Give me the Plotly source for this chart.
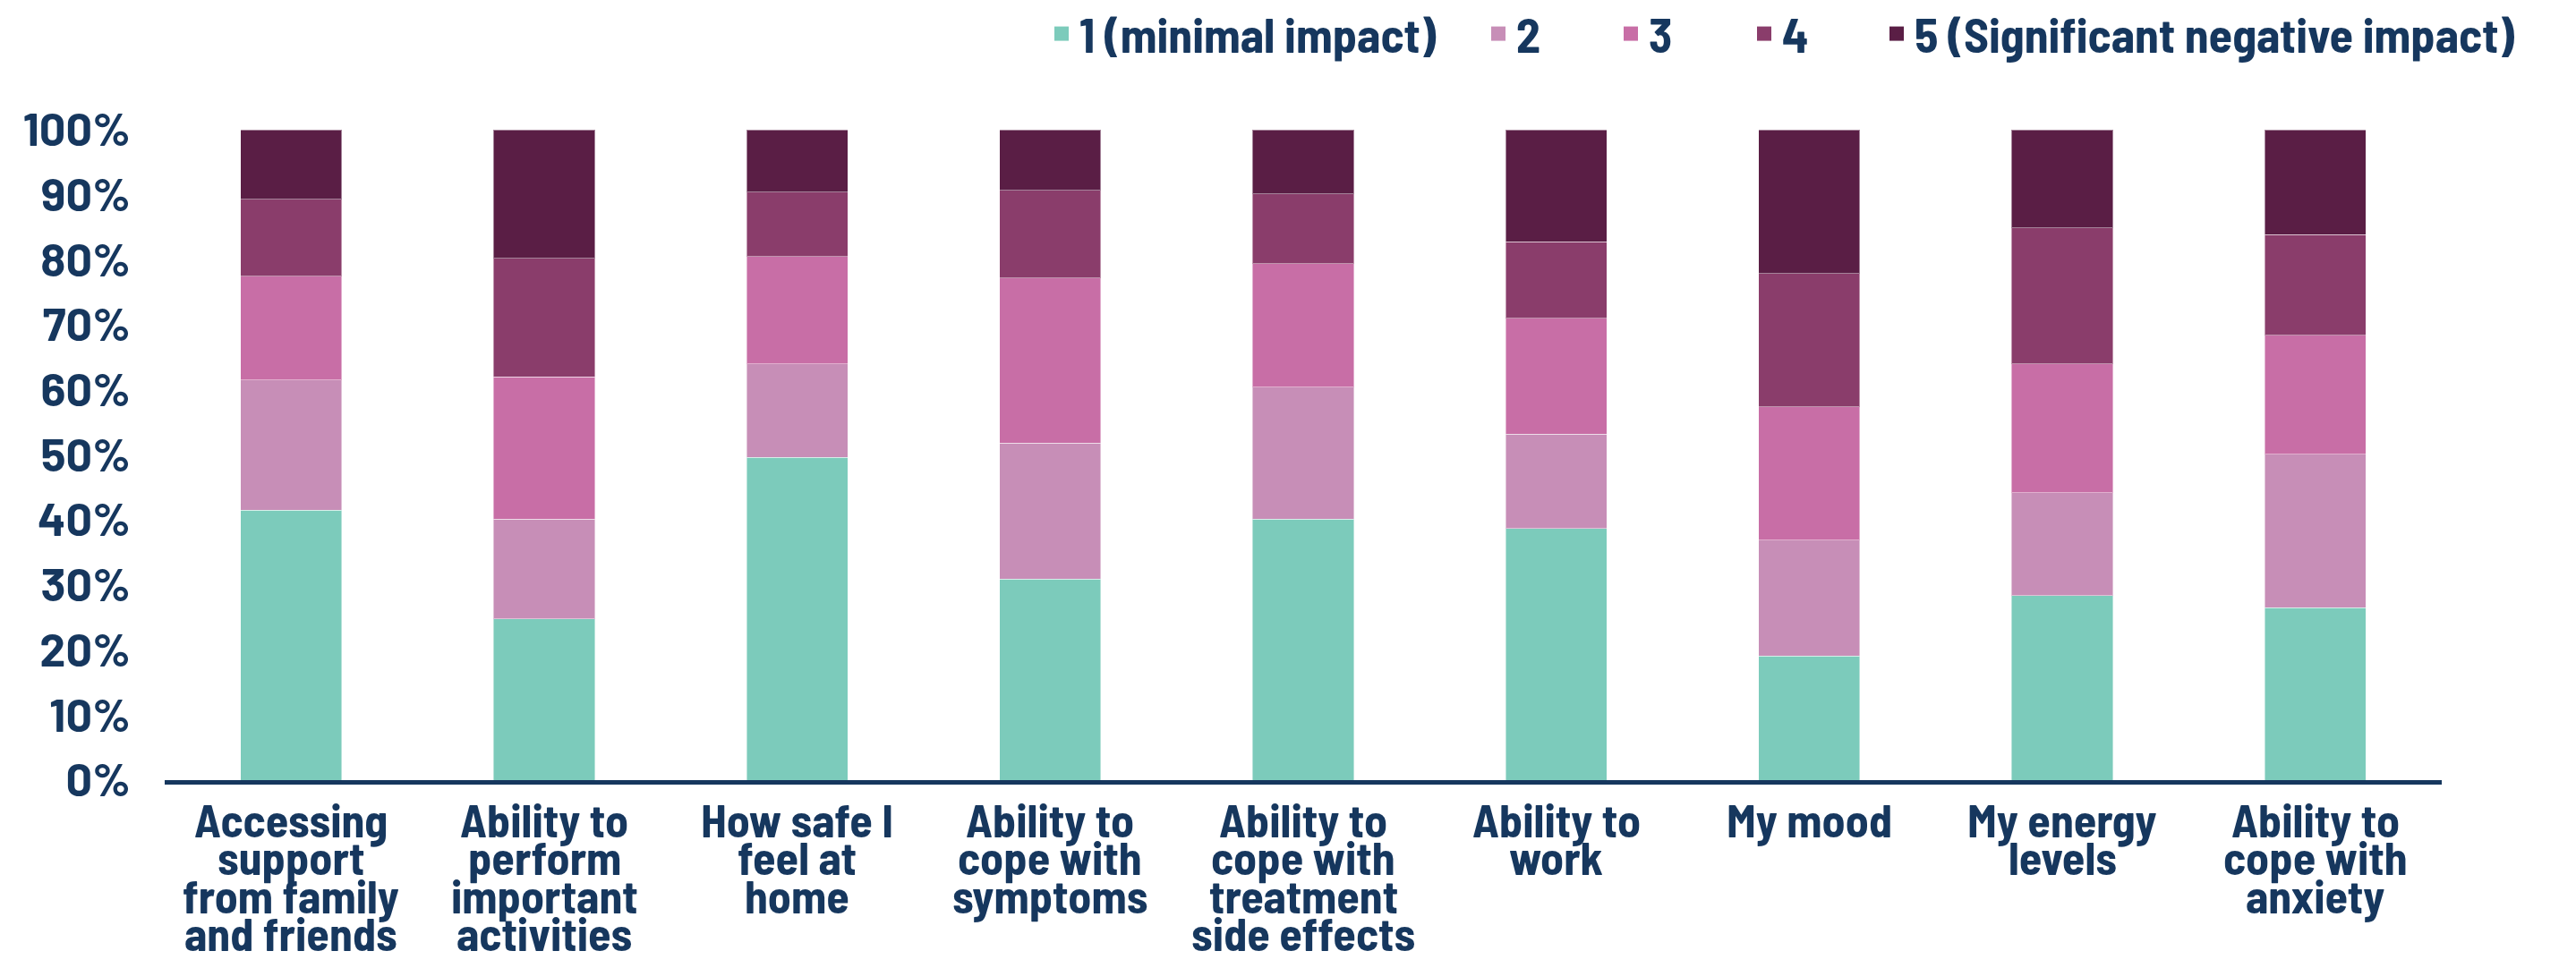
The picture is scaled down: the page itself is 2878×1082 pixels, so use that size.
import plotly.graph_objects as go

# ---------------- data ----------------
categories = [
    "Accessing support from family and friends",
    "Ability to perform important activities",
    "How safe I feel at home",
    "Ability to cope with symptoms",
    "Ability to cope with treatment side effects",
    "Ability to work",
    "My mood",
    "My energy levels",
    "Ability to cope with anxiety",
]
category_lines = [
    ["Accessing", "support", "from family", "and friends"],
    ["Ability to", "perform", "important", "activities"],
    ["How safe I", "feel at", "home"],
    ["Ability to", "cope with", "symptoms"],
    ["Ability to", "cope with", "treatment", "side effects"],
    ["Ability to", "work"],
    ["My mood"],
    ["My energy", "levels"],
    ["Ability to", "cope with", "anxiety"],
]
series_names = ["1 (minimal impact)", "2", "3", "4", "5 (Significant negative impact)"]
s1 = [41.5, 24.8, 49.6, 30.9, 40.1, 38.7, 19.1, 28.4, 26.5]
s2 = [20.0, 15.3, 14.4, 20.9, 20.3, 14.5, 17.8, 15.8, 23.6]
s3 = [16.0, 21.9, 16.5, 25.4, 19.0, 17.8, 20.5, 19.8, 18.3]
s4 = [11.8, 18.2, 9.9, 13.5, 10.7, 11.8, 20.5, 20.9, 15.5]
s5 = [10.7, 19.8, 9.6, 9.3, 9.9, 17.2, 22.1, 15.1, 16.1]
series_values = [s1, s2, s3, s4, s5]
y_ticks = list(range(0, 101, 10))
y_tick_labels = [f"{v}%" for v in y_ticks]

# ---------------- style ----------------
colors = ["#7CCBBB", "#C78EB7", "#C86EA6", "#8A3D6B", "#5A1E45"]
navy = "#16375E"
cond_font = "Barlow Semi Condensed, Saira Condensed, Roboto Condensed, Liberation Sans Narrow, Liberation Sans"
tick_font = "Barlow, Saira, Open Sans, DejaVu Sans"

W, H = 2870, 1074          # page body has an 8px margin
PL, PR, PT, PB = 176, 2720, 137, 864   # plot area in figure px

fig = go.Figure()
for name, vals, col in zip(series_names, series_values, colors):
    fig.add_trace(go.Bar(
        x=categories, y=vals, name=name, marker_color=col,
        marker_line=dict(width=1, color="rgba(255,255,255,0.45)"),
        showlegend=False, legendgroup=name,
    ))

# legend entries (one legend per entry so their spacing can match the reference)
sym_centers = [1178, 1666, 1814, 1963, 2111]
for i, (name, col) in enumerate(zip(series_names, colors)):
    lg = "legend" if i == 0 else f"legend{i+1}"
    fig.add_trace(go.Scatter(
        x=[None], y=[None], mode="markers", name=name, legendgroup=name,
        marker=dict(symbol="square", size=16, color=col), legend=lg, showlegend=True,
    ))

legend_common = dict(
    orientation="h", xref="container", yref="container", xanchor="left", yanchor="middle",
    y=1 - 30 / H, font=dict(family=cond_font, size=54, color=navy, weight=700),
    itemsizing="trace", bgcolor="rgba(0,0,0,0)",
)
legends = {}
for i, c in enumerate(sym_centers):
    key = "legend" if i == 0 else f"legend{i+1}"
    legends[key] = dict(legend_common, x=(c - 20) / W)

annotations = []
for cat, lines in zip(categories, category_lines):
    for j, line in enumerate(lines):
        annotations.append(dict(
            x=cat, xref="x", y=0, yref="paper", yanchor="top", xanchor="center",
            yshift=-10 - j * 42.3, text=line, showarrow=False,
            font=dict(family=cond_font, size=52, color=navy, weight=700),
        ))

pw = PR - PL
fig.update_layout(
    width=W, height=H,
    margin=dict(l=PL, r=W - PR, t=PT, b=H - PB),
    barmode="stack", bargap=0.6,
    plot_bgcolor="white", paper_bgcolor="white",
    annotations=annotations,
    shapes=[dict(type="rect", xref="paper", yref="paper",
                 x0=(2865 - PL) / pw, x1=(2871 - PL) / pw, y0=-0.4, y1=1.3,
                 fillcolor="#6CC4B0", line_width=0, layer="above")],
    xaxis=dict(showticklabels=False, showline=True, linecolor=navy, linewidth=5,
               ticks="", showgrid=False, zeroline=False, fixedrange=True),
    yaxis=dict(range=[0, 100], tickvals=y_ticks, ticktext=y_tick_labels, showgrid=False,
               zeroline=False, showline=False, ticks="", ticklabelstandoff=37,
               tickfont=dict(family=tick_font, size=52, color=navy, weight=700)),
    **legends,
)
fig.write_html("out.html")
